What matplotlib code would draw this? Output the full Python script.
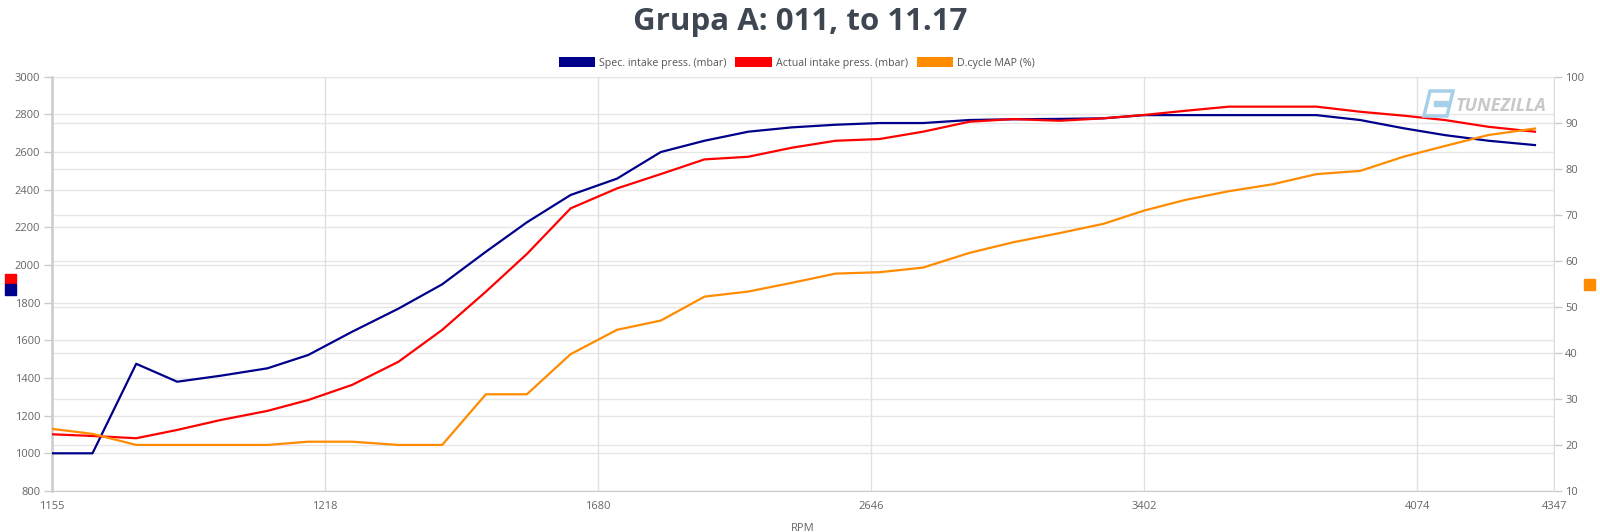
import matplotlib
matplotlib.use("Agg")
import matplotlib.pyplot as plt
import matplotlib.transforms as mtransforms
from matplotlib.patches import Patch, Rectangle, Polygon

plt.rcParams['font.family'] = ['Open Sans', 'DejaVu Sans']

# sample time (tick interval = 1 unit)
t = [0.00, 0.15, 0.31, 0.46, 0.62, 0.79, 0.94, 1.10, 1.27, 1.43, 1.59, 1.74,
     1.90, 2.07, 2.23, 2.39, 2.55, 2.71, 2.87, 3.03, 3.19, 3.36, 3.52, 3.69,
     3.85, 4.00, 4.15, 4.31, 4.47, 4.63, 4.79, 4.95, 5.10, 5.26, 5.43]

spec_press = [1000, 1000, 1475, 1380, 1412, 1451, 1522, 1645, 1768, 1897, 2070, 2226,
              2371, 2458, 2599, 2659, 2707, 2730, 2744, 2753, 2753, 2769, 2773, 2775,
              2778, 2795, 2795, 2795, 2795, 2795, 2769, 2725, 2689, 2659, 2636]

actual_press = [1101, 1092, 1080, 1124, 1177, 1225, 1283, 1363, 1486, 1655, 1858, 2058,
                2300, 2406, 2482, 2560, 2574, 2622, 2659, 2668, 2707, 2760, 2774, 2765,
                2778, 2796, 2818, 2840, 2840, 2840, 2813, 2792, 2769, 2733, 2707]

dcycle_map = [23.5, 22.4, 20, 20, 20, 20, 20.7, 20.7, 20, 20, 31, 31,
              39.7, 45.0, 47.0, 52.2, 53.3, 55.2, 57.2, 57.5, 58.5, 61.7, 64.0, 66.0,
              68.0, 70.9, 73.2, 75.1, 76.6, 78.8, 79.5, 82.6, 84.9, 87.3, 88.7]

tick_pos = [0, 1, 2, 3, 4, 5, 5.5]
rpm_labels = ['1155', '1218', '1680', '2646', '3402', '4074', '4347']

series_names = ['Spec. intake press. (mbar)', 'Actual intake press. (mbar)', 'D.cycle MAP (%)']
colors = ['#00008b', '#ff0000', '#ff8c00']

grid_c = '#e6e6e6'
label_c = '#666666'

fig = plt.figure(figsize=(16, 5.32), dpi=100)
ax1 = fig.add_axes([0.0322, 0.0771, 0.9391, 0.7791])
ax2 = ax1.twinx()

ax1.set_xlim(0, 5.5)
ax1.set_ylim(800, 3000)
ax1.set_yticks(range(800, 3001, 200))
ax2.set_ylim(10, 100)
ax2.set_yticks(range(10, 101, 10))

# gridlines (both y axes) drawn in ax1, below the lines
for v in range(800, 3001, 200):
    ax1.axhline(v, color=grid_c, lw=1, zorder=0)
blend = mtransforms.blended_transform_factory(ax1.transAxes, ax2.transData)
for p in range(10, 101, 10):
    ax1.plot([0, 1], [p, p], transform=blend, color=grid_c, lw=1, zorder=0)
for x in tick_pos:
    ax1.axvline(x, color='#e0e0e0', lw=1, zorder=0)

ax1.plot(t, spec_press, color=colors[0], lw=1.6, zorder=3)
ax1.plot(t, actual_press, color=colors[1], lw=1.6, zorder=3)
ax2.plot(t, dcycle_map, color=colors[2], lw=1.6, zorder=3)

ax1.set_xticks(tick_pos)
ax1.set_xticklabels(rpm_labels)
ax1.set_xlabel('RPM', color=label_c, fontsize=8, labelpad=8)

for ax in (ax1, ax2):
    for s in ax.spines.values():
        s.set_visible(False)
    ax.tick_params(labelsize=8, labelcolor=label_c, colors='#cccccc', width=1)
ax1.tick_params(axis='x', length=0, pad=7)
ax1.tick_params(axis='y', length=6, pad=2)
ax2.tick_params(axis='y', length=6, pad=2)
ax1.spines['left'].set_visible(True)
ax1.spines['left'].set_color('#cccccc')
ax1.spines['left'].set_linewidth(1.8)
ax1.spines['bottom'].set_visible(True)
ax1.spines['bottom'].set_color('#cccccc')
ax2.spines['right'].set_visible(True)
ax2.spines['right'].set_color('#dddddd')

fig.text(0.5, 0.958, 'Grupa A: 011, to 11.17', ha='center', va='center',
         fontsize=22.5, fontweight='bold', color='#3d4651')

handles = [Patch(facecolor=c, edgecolor='none') for c in colors]
fig.legend(handles, series_names, loc='center', bbox_to_anchor=(0.498, 0.882), ncol=3,
           frameon=False, fontsize=7.7, labelcolor='#555555', handlelength=3.4,
           handleheight=1.1, handletextpad=0.4, columnspacing=0.8)

# series colour markers next to each axis
fig.patches.append(Rectangle((5 / 1600, 1 - 284 / 532), 11 / 1600, 10 / 532,
                             transform=fig.transFigure, color=colors[1]))
fig.patches.append(Rectangle((5 / 1600, 1 - 295 / 532), 11 / 1600, 11 / 532,
                             transform=fig.transFigure, color=colors[0]))
fig.patches.append(Rectangle((1584 / 1600, 1 - 290 / 532), 11 / 1600, 11 / 532,
                             transform=fig.transFigure, color=colors[2]))

# watermark
fig.text(0.9095, 0.800, 'TUNEZILLA', fontsize=13, fontweight='bold', style='italic',
         color='#c8c8c8', ha='left', va='center')
fig.patches.append(Polygon([(1424 / 1600, 1 - 116 / 532), (1430 / 1600, 1 - 91 / 532),
                            (1453 / 1600, 1 - 91 / 532), (1447 / 1600, 1 - 116 / 532)],
                           closed=True, transform=fig.transFigure, fill=False,
                           edgecolor='#a8cfe8', lw=2.5))
fig.patches.append(Rectangle((1434 / 1600, 1 - 106 / 532), 14 / 1600, 5 / 532,
                             transform=fig.transFigure, color='#a8cfe8'))

fig.savefig('out.png', dpi=100)
